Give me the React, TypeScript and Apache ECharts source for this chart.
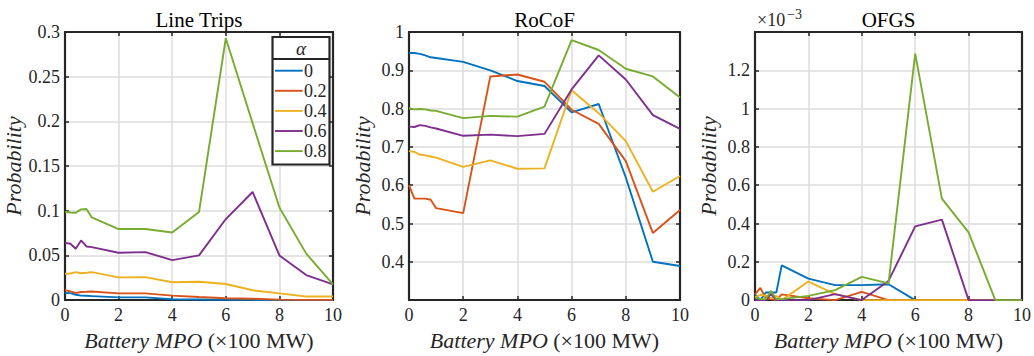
import React, { useEffect, useRef } from "react";
import * as echarts from "echarts";

const xs = [0, 0.2, 0.4, 0.6, 0.8, 1, 2, 3, 4, 5, 6, 7, 8, 9, 10];
const alphaLabels = ["0", "0.2", "0.4", "0.6", "0.8"];
const colors = ["#0072BD", "#D95319", "#EDB120", "#7E2F8E", "#77AC30"];
const panelTitles = ["Line Trips", "RoCoF", "OFGS"];

const lineTrips0 = [0.008, 0.0078, 0.006, 0.005, 0.0048, 0.0045, 0.003, 0.003, 0.001, 0.0007, 0.0004, 0.0002, 0.0001, 0.0001, 0];
const lineTrips02 = [0.011, 0.0097, 0.008, 0.009, 0.0093, 0.0097, 0.0075, 0.0075, 0.005, 0.0034, 0.002, 0.0015, 0.0005, 0.0003, 0.0002];
const lineTrips04 = [0.0295, 0.0298, 0.0313, 0.03, 0.0306, 0.0313, 0.0254, 0.0257, 0.02, 0.0205, 0.018, 0.011, 0.0075, 0.004, 0.004];
const lineTrips06 = [0.064, 0.063, 0.0575, 0.0668, 0.06, 0.0593, 0.053, 0.0537, 0.0448, 0.05, 0.0907, 0.121, 0.05, 0.028, 0.0175];
const lineTrips08 = [0.0989, 0.098, 0.0978, 0.1015, 0.102, 0.0925, 0.0795, 0.0795, 0.0757, 0.0985, 0.293, 0.198, 0.1037, 0.052, 0.0175];

const rocof0 = [0.945, 0.945, 0.943, 0.939, 0.934, 0.932, 0.922, 0.9, 0.872, 0.859, 0.79, 0.812, 0.62, 0.4, 0.389];
const rocof02 = [0.6, 0.565, 0.565, 0.565, 0.562, 0.54, 0.527, 0.884, 0.889, 0.87, 0.797, 0.76, 0.663, 0.475, 0.535];
const rocof04 = [0.689, 0.687, 0.68, 0.678, 0.675, 0.672, 0.648, 0.665, 0.643, 0.644, 0.848, 0.788, 0.715, 0.583, 0.624];
const rocof06 = [0.753, 0.752, 0.757, 0.755, 0.751, 0.748, 0.729, 0.732, 0.728, 0.734, 0.85, 0.939, 0.876, 0.783, 0.747];
const rocof08 = [0.801, 0.798, 0.799, 0.798, 0.795, 0.794, 0.775, 0.781, 0.779, 0.805, 0.979, 0.953, 0.904, 0.884, 0.829];

// OFGS values in units of 1e-3
const ofgs0 = [0.03, 0.0, 0.04, 0.04, 0.04, 0.181, 0.112, 0.078, 0.078, 0.083, 0, 0, 0, 0, 0];
const ofgs02 = [0.03, 0.064, 0.01, 0.005, 0, 0.03, 0.01, 0, 0.043, 0, 0, 0, 0, 0, 0];
const ofgs04 = [0.014, 0.028, 0.022, 0.01, 0.022, 0, 0.097, 0.031, 0, 0, 0, 0, 0, 0, 0];
const ofgs06 = [0, 0, 0, 0.031, 0, 0, 0, 0.031, 0, 0.1, 0.385, 0.42, 0, 0, 0];
const ofgs08 = [0.014, 0.005, 0.005, 0.048, 0.005, 0.005, 0.022, 0.052, 0.121, 0.087, 1.287, 0.53, 0.354, 0, 0];

const panelData = [
  [lineTrips0, lineTrips02, lineTrips04, lineTrips06, lineTrips08],
  [rocof0, rocof02, rocof04, rocof06, rocof08],
  [ofgs0, ofgs02, ofgs04, ofgs06, ofgs08],
];

const yMins = [0, 0.3, 0];
const yMaxs = [0.3, 1, 1.4];
const yIntervals = [0.05, 0.1, 0.2];
const xTicks = { min: 0, max: 10, interval: 2 };

const INK = "#262626";
const FONT = "serif";

const grids = [
  { left: 65, top: 32, width: 268, height: 270 },
  { left: 409, top: 32, width: 271, height: 270 },
  { left: 755, top: 32, width: 267, height: 270 },
];

function fmtY(p: number) {
  return (v: number) => {
    const r = Math.round(v * 100) / 100;
    if (p === 1 && r < 0.35) return "";
    if (p === 2 && r > 1.35) return "";
    return String(r);
  };
}

export default function App() {
  const ref = useRef<HTMLDivElement>(null);
  useEffect(() => {
    if (!ref.current) return;
    const chart = echarts.init(ref.current, undefined, { renderer: "svg" });
    const xAxis: any[] = [];
    const yAxis: any[] = [];
    const series: any[] = [];
    const graphic: any[] = [];
    grids.forEach((g, p) => {
      xAxis.push({
        type: "value",
        gridIndex: p,
        min: xTicks.min,
        max: xTicks.max,
        interval: xTicks.interval,
        position: "bottom",
        axisLine: { show: true, onZero: false, lineStyle: { color: INK, width: 2.2 } },
        axisTick: { show: true, inside: true, length: 4, lineStyle: { color: INK, width: 1.5 } },
        axisLabel: { margin: 6, fontFamily: FONT, fontSize: 18, color: INK },
        splitLine: { show: true, lineStyle: { color: "#dcdcdc", width: 1.5 } },
        name: "{i|Battery MPO} {n|(×100 MW)}",
        nameLocation: "middle",
        nameGap: 23,
        nameTextStyle: {
          fontFamily: FONT,
          fontSize: 22,
          color: INK,
          rich: {
            i: { fontFamily: FONT, fontStyle: "italic", fontSize: 22, color: INK },
            n: { fontFamily: FONT, fontSize: 22, color: INK },
          },
        },
      });
      xAxis.push({
        type: "value",
        gridIndex: p,
        min: xTicks.min,
        max: xTicks.max,
        interval: xTicks.interval,
        position: "top",
        axisLine: { show: true, onZero: false, lineStyle: { color: INK, width: 2.2 } },
        axisTick: { show: true, inside: true, length: 4, lineStyle: { color: INK, width: 1.5 } },
        axisLabel: { show: false },
        splitLine: { show: false },
      });
      yAxis.push({
        type: "value",
        gridIndex: p,
        min: yMins[p],
        max: yMaxs[p],
        interval: yIntervals[p],
        position: "left",
        axisLine: { show: true, onZero: false, lineStyle: { color: INK, width: 2.2 } },
        axisTick: { show: true, inside: true, length: 4, lineStyle: { color: INK, width: 1.5 } },
        axisLabel: { margin: 5, fontFamily: FONT, fontSize: 18, color: INK, formatter: fmtY(p) },
        splitLine: { show: true, lineStyle: { color: "#dcdcdc", width: 1.5 } },
        name: "Probability",
        nameLocation: "middle",
        nameGap: 36,
        nameTextStyle: { fontFamily: FONT, fontStyle: "italic", fontSize: 22, color: INK },
      });
      yAxis.push({
        type: "value",
        gridIndex: p,
        min: yMins[p],
        max: yMaxs[p],
        interval: yIntervals[p],
        position: "right",
        axisLine: { show: true, onZero: false, lineStyle: { color: INK, width: 2.2 } },
        axisTick: { show: true, inside: true, length: 4, lineStyle: { color: INK, width: 1.5 } },
        axisLabel: { show: false },
        splitLine: { show: false },
      });
      panelData[p].forEach((vals, k) => {
        series.push({
          type: "line",
          name: alphaLabels[k],
          xAxisIndex: p * 2,
          yAxisIndex: p * 2,
          data: xs.map((x, i) => [x, vals[i]]),
          symbol: "none",
          lineStyle: { color: colors[k], width: 1.9 },
          itemStyle: { color: colors[k] },
          z: 3 + k,
        });
      });
      graphic.push({
        type: "text",
        x: g.left + g.width / 2,
        y: 20,
        style: {
          text: panelTitles[p],
          fontFamily: FONT,
          fontSize: 21,
          fill: "#000",
          align: "center",
          verticalAlign: "middle",
        },
      });
    });
    // ×10^-3 multiplier
    graphic.push({
      type: "text",
      x: 757,
      y: 20,
      style: { text: "×10", fontFamily: FONT, fontSize: 18, fill: INK, align: "left", verticalAlign: "middle" },
    });
    graphic.push({
      type: "text",
      x: 787,
      y: 14,
      style: { text: "−3", fontFamily: FONT, fontSize: 14, fill: INK, align: "left", verticalAlign: "middle" },
    });
    // legend box
    const lx = 272.5, ly = 37, lw = 57, lh = 127.5;
    graphic.push({
      type: "rect",
      shape: { x: lx, y: ly, width: lw, height: lh },
      style: { fill: "#fff", stroke: INK, lineWidth: 2.2 },
      z: 50,
    });
    graphic.push({
      type: "line",
      shape: { x1: lx, y1: 59, x2: lx + lw, y2: 59 },
      style: { stroke: INK, lineWidth: 2.2 },
      z: 51,
    });
    graphic.push({
      type: "text",
      x: lx + lw / 2,
      y: 48.5,
      style: { text: "α", fontFamily: FONT, fontStyle: "italic", fontSize: 19, fill: INK, align: "center", verticalAlign: "middle" },
      z: 51,
    });
    alphaLabels.forEach((lab, k) => {
      const yy = 70.7 + k * 20.1;
      graphic.push({
        type: "line",
        shape: { x1: 275, y1: yy, x2: 302.7, y2: yy },
        style: { stroke: colors[k], lineWidth: 1.9 },
        z: 51,
      });
      graphic.push({
        type: "text",
        x: 304,
        y: yy,
        style: { text: lab, fontFamily: FONT, fontSize: 18, fill: INK, align: "left", verticalAlign: "middle" },
        z: 51,
      });
    });

    chart.setOption({
      animation: false,
      backgroundColor: "#fff",
      textStyle: { fontFamily: FONT },
      grid: grids.map((g) => ({ ...g, containLabel: false })),
      xAxis,
      yAxis,
      series,
      graphic,
    });
    return () => chart.dispose();
  }, []);
  return (
    <div
      ref={ref}
      style={{ position: "absolute", left: 0, top: 0, width: 1034, height: 356 }}
    />
  );
}
